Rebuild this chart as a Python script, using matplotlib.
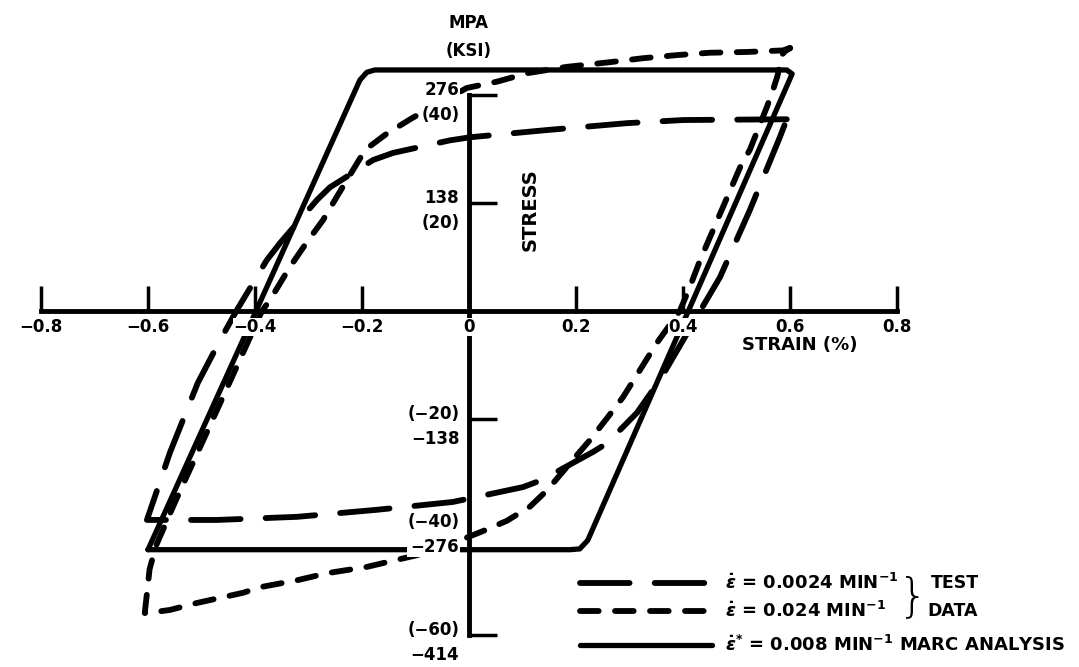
import matplotlib
matplotlib.use('Agg')
import matplotlib.pyplot as plt

# Данные: деформация в %, напряжение в МПа

# MARC analysis, 0.008 1/min (сплошная)
marc_strain = [-0.600, -0.398, -0.204, -0.191, -0.176, 0.594, 0.604, 0.410, 0.222, 0.207, 0.189, -0.600]
marc_stress = [-305, 0, 295, 305, 308, 308, 303, 0, -293, -304, -305, -305]

# испытание 0.0024 1/min (длинный штрих)
slow_strain = [0.594, 0.400, 0.295, 0.142, 0.002, -0.036, -0.142, -0.179, -0.260, -0.284, -0.353, -0.378,
               -0.434, -0.465, -0.507, -0.559, -0.602,
               -0.583, -0.471, -0.321, -0.172, -0.030, 0.101, 0.136, 0.232, 0.258, 0.314, 0.357,
               0.432, 0.469, 0.525, 0.581, 0.594]
slow_stress = [245, 244, 240, 231, 222, 218, 202, 193, 158, 142, 87, 65,
               1, -37, -92, -181, -267,
               -267, -267, -263, -254, -244, -225, -216, -180, -169, -130, -88,
               0, 43, 129, 222, 245]

# испытание 0.024 1/min (короткий штрих)
fast_strain = [0.600, 0.587, 0.520, 0.450, 0.389, 0.325, 0.264, 0.183, 0.110, 0.052, -0.004, -0.105,
               -0.153, -0.194, -0.247, -0.273, -0.303, -0.335, -0.372, -0.387, -0.450, -0.500,
               -0.550, -0.585, -0.597, -0.606,
               -0.602, -0.559, -0.508, -0.422, -0.391, -0.321, -0.265, -0.191, -0.135, -0.097,
               -0.002, 0.034, 0.071, 0.114, 0.146, 0.202, 0.226, 0.258, 0.288, 0.320, 0.351,
               0.394, 0.413, 0.432, 0.507, 0.525, 0.557, 0.568, 0.576, 0.587, 0.600]
fast_stress = [336, 333, 331, 330, 327, 323, 318, 312, 304, 293, 285, 247,
               227, 206, 146, 116, 88, 56, 14, 0, -95, -170,
               -245, -300, -330, -386,
               -386, -382, -373, -360, -353, -344, -335, -327, -318, -312,
               -289, -279, -268, -250, -229, -184, -165, -137, -110, -75, -41,
               0, 31, 65, 184, 206, 261, 282, 299, 330, 336]

x_ticks = [-0.8, -0.6, -0.4, -0.2, 0, 0.2, 0.4, 0.6, 0.8]
x_ticklabels = ['\u22120.8', '\u22120.6', '\u22120.4', '\u22120.2', '0', '0.2', '0.4', '0.6', '0.8']
y_ticks = [276, 138, -138, -276, -414]
y_mpa_labels = ['276', '138', '\u2212138', '\u2212276', '\u2212414']
y_ksi_labels = ['(40)', '(20)', '(\u221220)', '(\u221240)', '(\u221260)']

legend_labels = [r'$\dot{\epsilon}$ = 0.0024 MIN$^{-1}$',
                 r'$\dot{\epsilon}$ = 0.024 MIN$^{-1}$',
                 r'$\dot{\epsilon}^{*}$ = 0.008 MIN$^{-1}$ MARC ANALYSIS']

plt.rcParams['font.family'] = 'DejaVu Sans'
plt.rcParams['font.weight'] = 'bold'

fig = plt.figure(figsize=(10.79, 6.67), dpi=100)
ax = fig.add_axes([0, 0, 1, 1])
ax.set_xlim(-0.8766, 1.1402)
ax.set_ylim(-454.9, 397.4)
ax.set_axisbelow(False)

# оси крестом через ноль
ax.spines['top'].set_visible(False)
ax.spines['right'].set_visible(False)
ax.spines['left'].set_position(('data', 0))
ax.spines['bottom'].set_position(('data', 0))
ax.spines['left'].set_bounds(-414, 276)
ax.spines['bottom'].set_bounds(-0.8, 0.8)
ax.spines['left'].set_linewidth(3.5)
ax.spines['bottom'].set_linewidth(3.5)

ax.set_xticks(x_ticks, x_ticklabels)
ax.tick_params(axis='x', direction='in', length=18, width=2.5, pad=5, labelsize=12)
for lab in ax.get_xticklabels():
    lab.set_bbox(dict(fc='white', ec='none', pad=0.3))

ax.set_yticks(y_ticks, [''] * len(y_ticks))
ax.tick_params(axis='y', direction='in', length=20, width=2.5)
ax.yaxis.get_major_ticks()[3].tick1line.set_visible(False)

for v, m, k in zip(y_ticks, y_mpa_labels, y_ksi_labels):
    txt = m + '\n' + k if v > 0 else k + '\n' + m
    ax.annotate(txt, xy=(0, v), xytext=(-7, -5.5), textcoords='offset points',
                ha='right', va='center', fontsize=12, linespacing=1.55,
                bbox=dict(fc='white', ec='none', pad=0.5), zorder=5)

# кривые
solid_kw = dict(color='black', lw=3.8, solid_joinstyle='round', solid_capstyle='round')
slow_kw = dict(color='black', lw=4.2, dashes=(8.5, 4.3), dash_capstyle='round')
fast_kw = dict(color='black', lw=4.2, dashes=(3.2, 2.8), dash_capstyle='round')

ax.plot(marc_strain, marc_stress, **solid_kw)
ax.plot(slow_strain, slow_stress, **slow_kw)
ax.plot(fast_strain, fast_stress, **fast_kw)

# подписи осей
ax.annotate('MPA', xy=(0, 276), xytext=(0, 52), textcoords='offset points',
            ha='center', va='center', fontsize=12)
ax.annotate('(KSI)', xy=(0, 276), xytext=(0, 32), textcoords='offset points',
            ha='center', va='center', fontsize=12)
ax.text(0.114, 129, 'STRESS', rotation=90, ha='center', va='center', fontsize=14)
ax.text(0.510, -43, 'STRAIN (%)', ha='left', va='center', fontsize=13)

# легенда вручную
leg_y = [-347.6, -383.4, -426.8]
for kw, yy, lab in zip([slow_kw, fast_kw, solid_kw], leg_y, legend_labels):
    ax.plot([0.208, 0.454], [yy, yy], **kw)
    ax.text(0.478, yy, lab, ha='left', va='center', fontsize=13)

ax.text(0.830, (leg_y[0] + leg_y[1]) / 2, '}', ha='center', va='center',
        fontsize=34, fontweight='light', family='DejaVu Sans')
ax.text(0.864, leg_y[0], 'TEST', ha='left', va='center', fontsize=12.5)
ax.text(0.857, leg_y[1], 'DATA', ha='left', va='center', fontsize=12.5)

fig.savefig('out.png', dpi=100)
